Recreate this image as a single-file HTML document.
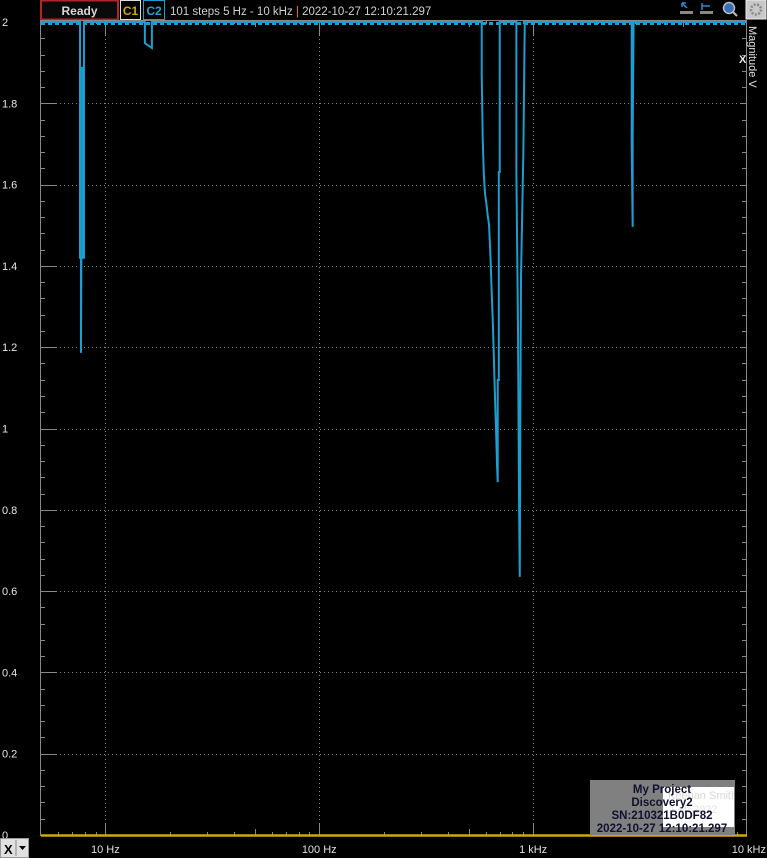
<!DOCTYPE html>
<html><head><meta charset="utf-8">
<style>
html,body{margin:0;padding:0;background:#000;width:767px;height:858px;overflow:hidden;font-family:"Liberation Sans",sans-serif;}
svg{position:absolute;left:0;top:0;}
</style></head>
<body>
<svg id="chart" width="767" height="858">
  <g id="topbar">
    <rect x="41" y="0.5" width="77" height="19" fill="#0a0a0a" stroke="#b0252a" stroke-width="2"/>
    <text x="79.5" y="15" text-anchor="middle" fill="#d8d8d8" font-size="12" font-weight="bold">Ready</text>
    <rect x="120.5" y="0.5" width="20" height="19" fill="#000" stroke="#ddd" stroke-width="1"/>
    <text x="130.5" y="15" text-anchor="middle" fill="#d4a80a" font-size="12" font-weight="bold">C1</text>
    <rect x="143.5" y="0.5" width="21" height="19" fill="#000" stroke="#1a9fd0" stroke-width="1"/>
    <text x="154" y="15" text-anchor="middle" fill="#1ea6d8" font-size="12" font-weight="bold">C2</text>
    <text x="170" y="15" fill="#d0d0d0" font-size="11.5">101 steps  5 Hz - 10 kHz <tspan fill="#e08a20">|</tspan> 2022-10-27 12:10:21.297</text>
    <g><path d="M682 3 L687 8 M682 3 L682 7 M682 3 L686 3" stroke="#2a8ad8" stroke-width="1.5" fill="none"/><rect x="680" y="11" width="13" height="3" fill="#888"/></g>
    <g><path d="M702 3 L702 10 M702 6 L710 6" stroke="#2a8ad8" stroke-width="1.5" fill="none"/><rect x="700" y="11" width="13" height="3" fill="#888"/></g>
    <g><circle cx="729" cy="8" r="5.5" fill="#3a6fb8" stroke="#bbb" stroke-width="1.5"/><path d="M733 12 L737 16" stroke="#bbb" stroke-width="2"/></g>
    <g><rect x="746" y="0" width="20" height="19" fill="#c8c8c8" stroke="#eee"/><circle cx="756" cy="9.5" r="5" fill="none" stroke="#888" stroke-width="2.5" stroke-dasharray="2 1.5"/></g>
  </g>
  <g id="axes"></g>
  <g id="series"></g>
  <text x="739" y="63" fill="#e8e8e8" font-size="11" font-weight="bold">X</text>
  <text transform="translate(749,26) rotate(90)" fill="#e0e0e0" font-size="11">Magnitude  V</text>
  <g>
    <rect x="0.5" y="838.5" width="28" height="19" fill="#e0e0e0" stroke="#999"/>
    <text x="4" y="854" fill="#000" font-size="13" font-weight="bold">X</text>
    <line x1="16" y1="840" x2="16" y2="856" stroke="#888"/>
    <path d="M19 846 L26 846 L22.5 850 Z" fill="#000"/>
  </g>
  <g>
    <rect x="590" y="780" width="145" height="55" fill="#808080"/>
    <rect x="663" y="787" width="71" height="40" fill="#fff"/>
    <svg x="663" y="787" width="71" height="40"><text x="5" y="12" fill="#d8d8d8" font-size="11">Keenan Smith</text><text x="8" y="26" fill="#e4e4e4" font-size="11">Feb 2022</text></svg>
    <text x="662" y="793" text-anchor="middle" fill="#101030" font-size="11.5" font-weight="bold">My Project</text>
    <text x="662" y="806" text-anchor="middle" fill="#101030" font-size="11.5" font-weight="bold">Discovery2</text>
    <text x="662" y="819" text-anchor="middle" fill="#101030" font-size="11.5" font-weight="bold">SN:210321B0DF82</text>
    <text x="662" y="832" text-anchor="middle" fill="#101030" font-size="11.5" font-weight="bold">2022-10-27 12:10:21.297</text>
  </g>
</svg>
<script>
const yTickValues = [0,0.2,0.4,0.6,0.8,1,1.2,1.4,1.6,1.8,2];
const yTickLabels = ["0","0.2","0.4","0.6","0.8","1","1.2","1.4","1.6","1.8","2"];
const xTickValues = [10,100,1000,10000];
const xTickLabels = ["10 Hz","100 Hz","1 kHz","10 kHz"];
const c2Freq = [5,7.61,7.61,7.69,7.69,7.72,7.78,7.78,7.86,7.86,7.94,7.94,15.3,15.3,16.5,16.5,
 575,575,581,588,596,605,613,622,632,640,649,656,663,671,678,683,683,691,691,698,698,
 835,835,850,859,866,872,878,900,913,913,
 2890,2890,2920,2920,2950,10000];
const c2Mag = [2,2,1.42,1.42,1.186,1.42,1.42,1.887,1.887,1.42,1.42,2,2,1.948,1.936,2,
 2,1.87,1.715,1.626,1.577,1.552,1.525,1.501,1.422,1.336,1.252,1.166,1.08,0.996,0.91,0.868,1.119,1.119,1.631,1.631,2,
 2,1.633,1.237,0.836,0.635,1.08,1.38,1.678,1.978,2,
 2,1.692,1.496,1.72,2,2];
const c1Freq = [5,10000];
const c1Mag = [0,0];

const NS="http://www.w3.org/2000/svg";
const X0=41, X1=747, Y0=835, Y2=22;
function xs(f){return X0+(X1-X0)*Math.log10(f/5)/Math.log10(2000);}
function ys(v){return Y0-(Y0-Y2)*v/2;}
function mk(tag,attrs,parent){const e=document.createElementNS(NS,tag);for(const k in attrs)e.setAttribute(k,attrs[k]);parent.appendChild(e);return e;}
const axes=document.getElementById('axes');
const ser=document.getElementById('series');
let l=mk('line',{x1:40.5,y1:20,x2:40.5,y2:836,stroke:'#888'},axes);


l=mk('line',{x1:746.5,y1:20,x2:746.5,y2:836,stroke:'#888'},axes);


l=mk('line',{x1:40,y1:20.5,x2:747,y2:20.5,stroke:'#888'},axes);


yTickValues.forEach((v,i)=>{
  const y=Math.round(ys(v))+0.5;
  if(v>0&&v<2){
    const g=mk('line',{x1:56,y1:y,x2:746,y2:y,stroke:'#888','stroke-dasharray':'1 3'},axes);
    
    
  }
  mk('line',{x1:40,y1:y,x2:56,y2:y,stroke:'#888'},axes);
  mk('line',{x1:740,y1:y,x2:747,y2:y,stroke:'#888'},axes);
  for(let k=1;k<5&&i<yTickValues.length-1;k++){
    const ym=Math.round(ys(v+0.04*k))+0.5;
    mk('line',{x1:40,y1:ym,x2:45,y2:ym,stroke:'#888'},axes);
    mk('line',{x1:742,y1:ym,x2:747,y2:ym,stroke:'#888'},axes);
  }
  const t=mk('text',{x:2,y:ys(v)+4,fill:'#e6e6e6','font-size':11},axes);
  t.textContent=yTickLabels[i];
  
  
});
xTickValues.forEach((f,i)=>{
  const x=Math.round(xs(f))+0.5;
  if(f<10000){
    const g=mk('line',{x1:x,y1:35,x2:x,y2:825,stroke:'#888','stroke-dasharray':'1 3'},axes);
    
    
    mk('line',{x1:x,y1:21,x2:x,y2:36,stroke:'#888'},axes);
    mk('line',{x1:x,y1:824,x2:x,y2:835,stroke:'#888'},axes);
  }
  const t=mk('text',{x:xs(f),y:853,fill:'#e0e0e0','font-size':11,'text-anchor':f==10000?'end':'middle'},axes);
  if(f==10000)t.setAttribute('x',766);
  t.textContent=xTickLabels[i];
  
  
});
[10,100,1000].forEach(d=>{for(let m=2;m<10;m++){const f=d*m;const x=Math.round(xs(f))+0.5;if(x>746)continue;
  const len=(m==5)?6:3;
  mk('line',{x1:x,y1:835,x2:x,y2:835-len,stroke:'#888'},axes);mk('line',{x1:x,y1:21,x2:x,y2:21+len,stroke:'#888'},axes);}});
[6,7,8,9].forEach(f=>{const x=Math.round(xs(f))+0.5;mk('line',{x1:x,y1:835,x2:x,y2:832,stroke:'#888'},axes);mk('line',{x1:x,y1:21,x2:x,y2:24,stroke:'#888'},axes);});
const p1=mk('polyline',{points:c1Freq.map((f,i)=>xs(f)+','+(ys(c1Mag[i])+0.5)).join(' '),fill:'none',stroke:'#d4a80a','stroke-width':2.5},ser);


const dl=mk('line',{x1:xs(5),y1:ys(2)+1.5,x2:xs(10000),y2:ys(2)+1.5,stroke:'#1a9fd0','stroke-width':3,'stroke-dasharray':'4 3'},ser);


const p2=mk('polyline',{points:c2Freq.map((f,i)=>xs(f)+','+ys(c2Mag[i])).join(' '),fill:'none',stroke:'#1a9fd0','stroke-width':2},ser);


</script>
</body></html>
